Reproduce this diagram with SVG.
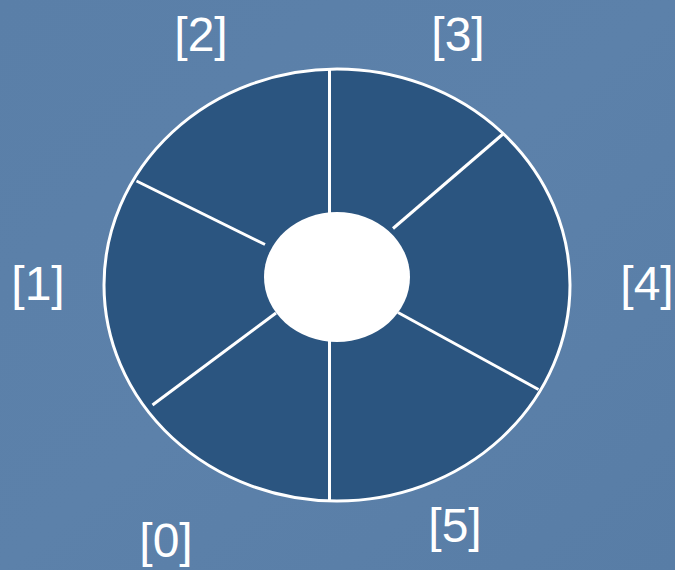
<svg xmlns="http://www.w3.org/2000/svg" width="675" height="570" viewBox="0 0 675 570">
  <style>
    .lbl { font-family: "Liberation Sans", Arial, sans-serif; font-size: 48px; fill: #ffffff; text-anchor: middle; }
    .div { stroke: #ffffff; stroke-width: 3; fill: none; }
  </style>
  <defs>
    <linearGradient id="bg" x1="0" y1="0" x2="1" y2="1">
      <stop offset="0" stop-color="#5a7fa8"/>
      <stop offset="0.5" stop-color="#5c81aa"/>
      <stop offset="1" stop-color="#587da6"/>
    </linearGradient>
  </defs>
  <rect x="0" y="0" width="675" height="570" fill="url(#bg)"/>
  <g id="ring">
    <ellipse cx="337" cy="285" rx="233" ry="216" fill="#2b5580" stroke="#ffffff" stroke-width="3"/>
  </g>
  <g id="dividers">
    <line class="div" x1="329.5" y1="70" x2="329.5" y2="214"/>
    <line class="div" x1="329.5" y1="338" x2="329.5" y2="500"/>
    <line class="div" x1="136.5" y1="181" x2="265" y2="244.5"/>
    <line class="div" x1="503" y1="134" x2="393" y2="228.5"/>
    <line class="div" x1="538.5" y1="389.5" x2="398" y2="312.5"/>
    <line class="div" x1="152.5" y1="405" x2="276" y2="313"/>
  </g>
  <g id="hub">
    <ellipse cx="337" cy="277" rx="73" ry="65" fill="#ffffff"/>
  </g>
  <g id="slot0"><text class="lbl" x="166" y="557">[0]</text></g>
  <g id="slot1"><text class="lbl" x="38" y="300">[1]</text></g>
  <g id="slot2"><text class="lbl" x="201" y="51">[2]</text></g>
  <g id="slot3"><text class="lbl" x="458" y="51">[3]</text></g>
  <g id="slot4"><text class="lbl" x="647" y="300">[4]</text></g>
  <g id="slot5"><text class="lbl" x="455" y="542">[5]</text></g>
</svg>
